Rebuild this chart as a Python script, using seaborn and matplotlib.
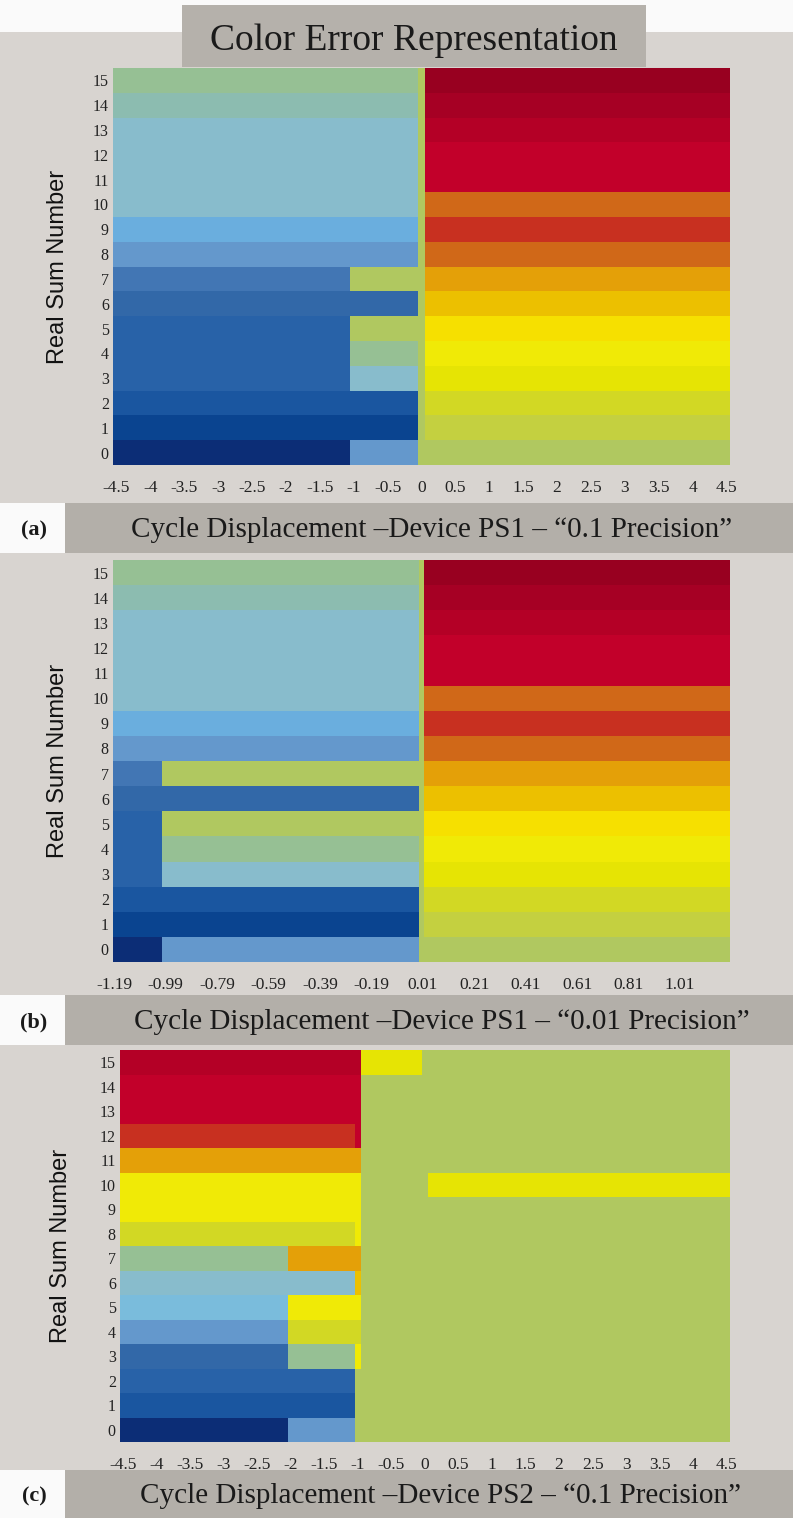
import numpy as np
import pandas as pd
import matplotlib
matplotlib.use("Agg")
import matplotlib.pyplot as plt
from matplotlib.colors import ListedColormap
from matplotlib.patches import Rectangle
import seaborn as sns

sns.set_theme(style="white")
plt.rcParams['font.family'] = ['Liberation Serif', 'DejaVu Serif']

# ---------------- colour scale (error level index -> colour) ----------------
PALETTE = ["#0c2d76", "#0a4490", "#1a56a0", "#2862a8", "#3268a8", "#4276b4",
           "#6498cc", "#6aaede", "#7abcdc", "#88bccc", "#8cbcb0", "#96c094",
           "#b0c860", "#c4d040", "#d2d824", "#e6e404", "#f0ea06", "#f6e000",
           "#ecc000", "#e4a008", "#d06818", "#c83020", "#c2002a", "#b40026",
           "#a60024", "#980020"]

ROWS = list(range(16))  # Real Sum Number 0..15

# ---------------- panel (a): PS1, 0.1 precision ----------------
A_COLS = np.round(np.arange(-45, 46) / 10, 1)
A_LEFT  = [0, 1, 2, 3, 3, 3, 4, 5, 6, 7, 9, 9, 9, 9, 10, 11]      # -4.5 .. -1.1
A_MID   = [6, 1, 2, 9, 11, 12, 4, 12, 6, 7, 9, 9, 9, 9, 10, 11]   # -1.0 .. -0.1
A_ZERO  = [12] * 16                                               # 0.0
A_RIGHT = [12, 13, 14, 15, 16, 17, 18, 19, 20, 21, 20, 22, 22, 23, 24, 25]  # 0.1 .. 4.5
A_STARTS = [-4.5, -1.0, 0.0, 0.1]
A_TICKS = [round(v / 2, 1) for v in range(-9, 10)]

# ---------------- panel (b): PS1, 0.01 precision ----------------
B_COLS = np.round(np.arange(-119, 121) / 100, 2)
B_LEFT  = [0, 1, 2, 3, 3, 3, 4, 5, 6, 7, 9, 9, 9, 9, 10, 11]      # -1.19 .. -1.01
B_MID   = [6, 1, 2, 9, 11, 12, 4, 12, 6, 7, 9, 9, 9, 9, 10, 11]   # -1.00 .. -0.01
B_ZERO  = [12] * 16                                               # 0.00 .. 0.01
B_RIGHT = [12, 13, 14, 15, 16, 17, 18, 19, 20, 21, 20, 22, 22, 23, 24, 25]  # 0.02 .. 1.20
B_STARTS = [-1.19, -1.00, 0.00, 0.02]
B_TICKS = [-1.19, -0.99, -0.79, -0.59, -0.39, -0.19, 0.01, 0.21, 0.41, 0.61, 0.81, 1.01]

# ---------------- panel (c): PS2, 0.1 precision ----------------
C_COLS = np.round(np.arange(-45, 46) / 10, 1)
C_LEFT = [0, 2, 3, 4, 6, 8, 9, 11, 14, 16, 16, 19, 21, 22, 22, 23]   # -4.5 .. -2.1
C_MID  = [6, 2, 3, 11, 14, 16, 9, 19, 14, 16, 16, 19, 21, 22, 22, 23]  # -2.0 .. -1.1
C_END  = [12, 12, 12, 16, 14, 16, 18, 19, 16, 16, 16, 19, 22, 22, 22, 23]  # -1.0
C_NEAR = [12] * 15 + [15]                                          # -0.9 .. -0.1
C_ZERO = [12] * 16                                                 # 0.0
C_FAR  = [12] * 10 + [15] + [12] * 5                               # 0.1 .. 4.5
C_STARTS = [-4.5, -2.0, -1.0, -0.9, 0.0, 0.1]
C_TICKS = A_TICKS

PANELS = [
    dict(cols=A_COLS, segs=[A_LEFT, A_MID, A_ZERO, A_RIGHT], starts=A_STARTS, ticks=A_TICKS, dec=1,
         cap="Cycle Displacement \u2013Device PS1 \u2013 \u201c0.1 Precision\u201d", tag="(a)"),
    dict(cols=B_COLS, segs=[B_LEFT, B_MID, B_ZERO, B_RIGHT], starts=B_STARTS, ticks=B_TICKS, dec=2,
         cap="Cycle Displacement \u2013Device PS1 \u2013 \u201c0.01 Precision\u201d", tag="(b)"),
    dict(cols=C_COLS, segs=[C_LEFT, C_MID, C_END, C_NEAR, C_ZERO, C_FAR], starts=C_STARTS, ticks=C_TICKS, dec=1,
         cap="Cycle Displacement \u2013Device PS2 \u2013 \u201c0.1 Precision\u201d", tag="(c)"),
]


def build(cols, segs, starts):
    M = np.zeros((len(ROWS), len(cols)), dtype=int)
    for j, c in enumerate(cols):
        lv = segs[0]
        for s, levels in zip(starts, segs):
            if c >= s - 1e-9:
                lv = levels
        M[:, j] = lv
    return pd.DataFrame(M, index=ROWS, columns=cols)


W, H = 793, 1518
fig = plt.figure(figsize=(W / 100, H / 100), dpi=100)
fig.patch.set_facecolor("#d8d4d0")


def rect(x0, y0, x1, y1, color):
    fig.patches.append(Rectangle((x0 / W, 1 - y1 / H), (x1 - x0) / W, (y1 - y0) / H,
                                 transform=fig.transFigure, facecolor=color,
                                 edgecolor="none", zorder=0))


# background decorations
rect(0, 0, W, 32, "#fafafa")
rect(182, 5, 646, 67, "#b5b1ab")
fig.text(414 / W, 1 - 41 / H, "Color Error Representation", ha="center", va="center",
         fontsize=27, color="#1a1a1a")

axes_px = [(113, 68, 730, 465), (113, 560, 730, 962), (120, 1050, 730, 1442)]
bars_px = [(503, 553), (995, 1045), (1470, 1518)]
cap_x = [432, 442, 440]
label_x = [69, 69, 72]

cmap = ListedColormap(PALETTE)

for k, p in enumerate(PANELS):
    x0, y0, x1, y1 = axes_px[k]
    ax = fig.add_axes([x0 / W, 1 - y1 / H, (x1 - x0) / W, (y1 - y0) / H])
    df = build(p["cols"], p["segs"], p["starts"]).iloc[::-1]
    sns.heatmap(df, ax=ax, cmap=cmap, vmin=-0.5, vmax=len(PALETTE) - 0.5, cbar=False,
                xticklabels=False, yticklabels=False, linewidths=0)
    cols = list(np.round(p["cols"], p["dec"]))
    tick_idx = [cols.index(round(t, p["dec"])) for t in p["ticks"]]
    ax.set_xticks([i + 0.5 for i in tick_idx])
    ax.set_xticklabels([f"{t:g}" for t in p["ticks"]], fontsize=12.5, color="#222222")
    ax.set_yticks(np.arange(len(ROWS)) + 0.5)
    ax.set_yticklabels([str(r) for r in df.index], fontsize=11.5, color="#222222", rotation=0)
    ax.tick_params(axis="both", length=0)
    ax.tick_params(axis="x", pad=11)
    ax.tick_params(axis="y", pad=3)
    ax.set_xlabel("")
    ax.set_ylabel("Real Sum Number", fontsize=17, color="#111111",
                  family=["Liberation Sans", "DejaVu Sans"])
    ax.yaxis.set_label_coords((label_x[k] - x0) / (x1 - x0), 0.5)
    for s in ax.spines.values():
        s.set_visible(False)

    b0, b1 = bars_px[k]
    rect(65, b0, W, b1, "#b3afa9")
    rect(0, b0, 65, b1, "#fafafa")
    fig.text(cap_x[k] / W, 1 - ((b0 + b1) / 2 + 2) / H, p["cap"], ha="center", va="center",
             fontsize=21, color="#1a1a1a")
    fig.text(34 / W, 1 - ((b0 + b1) / 2 + 2) / H, p["tag"], ha="center", va="center",
             fontsize=16, fontweight="bold", color="#1a1a1a")

fig.savefig("out.png", dpi=100, facecolor=fig.get_facecolor())
